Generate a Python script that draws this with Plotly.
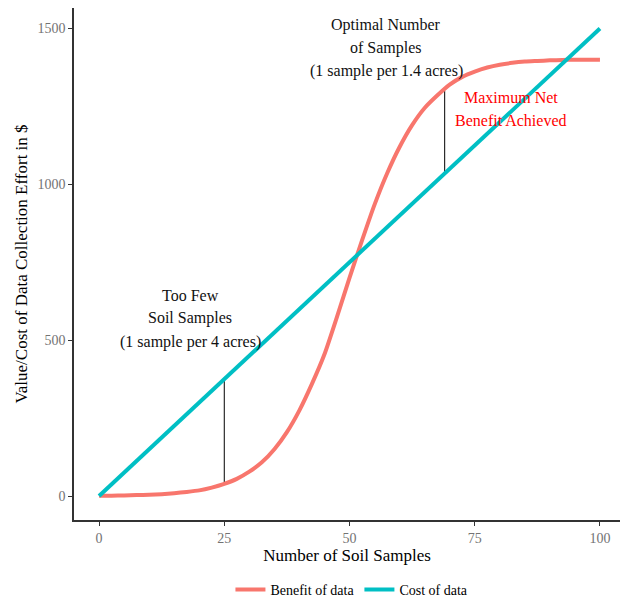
import plotly.graph_objects as go

# ---- data ----
sample_x = [0, 2.5, 5, 7.5, 10, 12.5, 15, 17.5, 20, 22.5, 25, 27.5, 30, 32.5, 35, 37.5,
            40, 42.5, 45, 47.5, 50, 52.5, 55, 57.5, 60, 62.5, 65, 67.5, 70, 72.5, 75,
            77.5, 80, 82.5, 85, 87.5, 90, 92.5, 95, 97.5, 100]
benefit = [1, 1, 2, 3, 4, 6, 9, 13, 18, 27, 39, 55, 78, 108, 150, 205,
           275, 360, 455, 575, 700, 820, 935, 1035, 1120, 1190, 1245, 1285, 1320, 1345, 1362,
           1375, 1384, 1390, 1394, 1396, 1398, 1399, 1400, 1400, 1400]
cost_x = [0, 100]
cost = [0, 1500]

gap1_x = [25, 25]
gap1_y = [39, 375]
gap2_x = [69, 69]
gap2_y = [1035, 1300]

x_ticks = [0, 25, 50, 75, 100]
y_ticks = [0, 500, 1000, 1500]

FONT = "Liberation Serif"

fig = go.Figure()
fig.add_trace(go.Scatter(x=gap1_x, y=gap1_y, mode="lines",
                         line=dict(color="black", width=1), showlegend=False, hoverinfo="skip"))
fig.add_trace(go.Scatter(x=gap2_x, y=gap2_y, mode="lines",
                         line=dict(color="black", width=1), showlegend=False, hoverinfo="skip"))
fig.add_trace(go.Scatter(x=sample_x, y=benefit, mode="lines", name="Benefit of data",
                         line=dict(color="#F8766D", width=4, shape="spline", smoothing=0.6)))
fig.add_trace(go.Scatter(x=cost_x, y=cost, mode="lines", name="Cost of data",
                         line=dict(color="#00BFC4", width=4)))

def ann(x, y, text, color="#111111"):
    fig.add_annotation(x=x, y=y, xref="x", yref="y", text=text, showarrow=False,
                       font=dict(family=FONT, size=16, color=color),
                       xanchor="center", yanchor="middle")

ann(18.2, 645, "Too Few")
ann(18.2, 571, "Soil Samples")
ann(18.2, 494, "(1 sample per 4 acres)")
ann(57.3, 1511, "Optimal Number")
ann(57.3, 1437, "of Samples")
ann(57.3, 1363, "(1 sample per 1.4 acres)")
ann(82.2, 1280, "Maximum Net", color="#FF0000")
ann(82.2, 1206, "Benefit Achieved", color="#FF0000")

axis_common = dict(showline=True, linecolor="#333333", linewidth=1.5, mirror=True,
                   ticks="outside", ticklen=4, tickcolor="#333333", tickwidth=1,
                   showgrid=False, zeroline=False, automargin=False,
                   tickfont=dict(family=FONT, size=14, color="#737373"))

fig.update_layout(
    width=612, height=595,
    margin=dict(l=66, r=0, t=0, b=83, pad=0),
    plot_bgcolor="white", paper_bgcolor="white",
    font=dict(family=FONT, color="black"),
    xaxis=dict(range=[-5, 104], tickvals=x_ticks,
               title=dict(text="Number of Soil Samples", font=dict(family=FONT, size=17, color="black"),
                          standoff=5),
               **axis_common),
    yaxis=dict(range=[-77, 1566], tickvals=y_ticks,
               title=dict(text="Value/Cost of Data Collection Effort in $",
                          font=dict(family=FONT, size=17, color="black"), standoff=6),
               **axis_common),
    legend=dict(orientation="h", x=0.562, xanchor="center", xref="container",
                y=0.022, yanchor="middle", yref="container", itemwidth=30,
                font=dict(family=FONT, size=14, color="black"), bgcolor="rgba(0,0,0,0)"),
)

fig.write_html("out.html")
